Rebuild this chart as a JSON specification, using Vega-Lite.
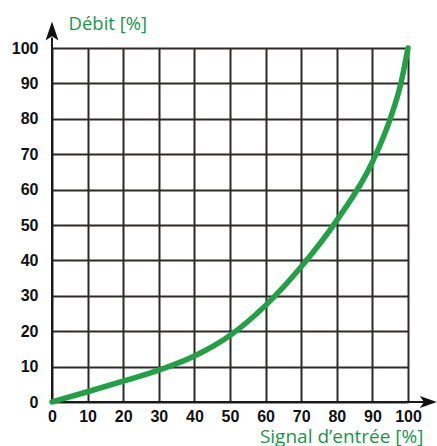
{
  "$schema": "https://vega.github.io/schema/vega-lite/v6.json",
  "autosize": "none",
  "width": 356,
  "height": 354,
  "padding": {"left": 52, "top": 48, "right": 29, "bottom": 44},
  "background": "white",
  "config": {"view": {"stroke": null}},
  "datasets": {
    "curve": [
      {"signal": 0, "debit": 0},
      {"signal": 10, "debit": 2.9},
      {"signal": 20, "debit": 5.9},
      {"signal": 30, "debit": 9.0},
      {"signal": 40, "debit": 13.0},
      {"signal": 50, "debit": 18.8},
      {"signal": 60, "debit": 27.3},
      {"signal": 70, "debit": 38.2},
      {"signal": 80, "debit": 51.3},
      {"signal": 90, "debit": 67.8},
      {"signal": 95, "debit": 80},
      {"signal": 98, "debit": 90},
      {"signal": 100, "debit": 100}
    ],
    "axes": [
      {"signal": 0, "debit": 0, "signal2": 0, "debit2": 103},
      {"signal": 0, "debit": 0, "signal2": 104.5, "debit2": 0}
    ],
    "yarrow": [{"signal": 0, "debit": 104.8}],
    "xarrow": [{"signal": 105.7, "debit": 0}]
  },
  "encoding": {
    "x": {"field": "signal", "type": "quantitative", "scale": {"domain": [0, 100], "nice": false, "zero": false},
      "axis": {
        "values": [0, 10, 20, 30, 40, 50, 60, 70, 80, 90, 100],
        "labelOverlap": false,
        "grid": true, "gridColor": "#2e2929", "gridWidth": 2, "gridOpacity": 1,
        "domain": false, "ticks": false,
        "labelFont": "Liberation Sans", "labelFontWeight": "bold", "labelFontSize": 16, "labelColor": "#111111",
        "labelPadding": 6, "labelFlush": false,
        "title": "Signal d’entrée [%]", "titleFont": "Open Sans", "titleFontWeight": "normal", "titleFontSize": 19,
        "titleColor": "#16964a", "titleAlign": "right", "titleAnchor": null, "titleBaseline": "alphabetic",
        "titleX": 371, "titleY": 40
      }},
    "y": {"field": "debit", "type": "quantitative", "scale": {"domain": [0, 100], "nice": false, "zero": false},
      "axis": {
        "values": [0, 10, 20, 30, 40, 50, 60, 70, 80, 90, 100],
        "labelOverlap": false,
        "grid": true, "gridColor": "#2e2929", "gridWidth": 2, "gridOpacity": 1,
        "domain": false, "ticks": false,
        "labelFont": "Liberation Sans", "labelFontWeight": "bold", "labelFontSize": 16, "labelColor": "#111111",
        "labelPadding": 14, "labelFlush": false,
        "title": "Débit [%]", "titleFont": "Open Sans", "titleFontWeight": "normal", "titleFontSize": 18.5,
        "titleColor": "#16964a", "titleAngle": 0, "titleAlign": "left", "titleAnchor": null, "titleBaseline": "alphabetic",
        "titleX": 16, "titleY": -19
      }}
  },
  "layer": [
    {
      "data": {"name": "axes"},
      "mark": {"type": "rule", "color": "#1a1a1a", "strokeWidth": 2, "clip": false},
      "encoding": {
        "x2": {"field": "signal2"},
        "y2": {"field": "debit2"}
      }
    },
    {
      "data": {"name": "curve"},
      "mark": {"type": "line", "color": "#22a044", "strokeWidth": 5.5, "strokeCap": "round", "strokeJoin": "round", "interpolate": "monotone"},
      "encoding": {}
    },
    {
      "data": {"name": "yarrow"},
      "mark": {"type": "point", "shape": "M0,-1 L0.68,1 L0,0.55 L-0.68,1 Z", "size": 361, "filled": true, "color": "#111111", "opacity": 1, "clip": false},
      "encoding": {}
    },
    {
      "data": {"name": "xarrow"},
      "mark": {"type": "point", "shape": "M1,0 L-1,0.7 L-0.5,0 L-1,-0.7 Z", "size": 289, "filled": true, "color": "#111111", "opacity": 1, "clip": false},
      "encoding": {}
    }
  ]
}
